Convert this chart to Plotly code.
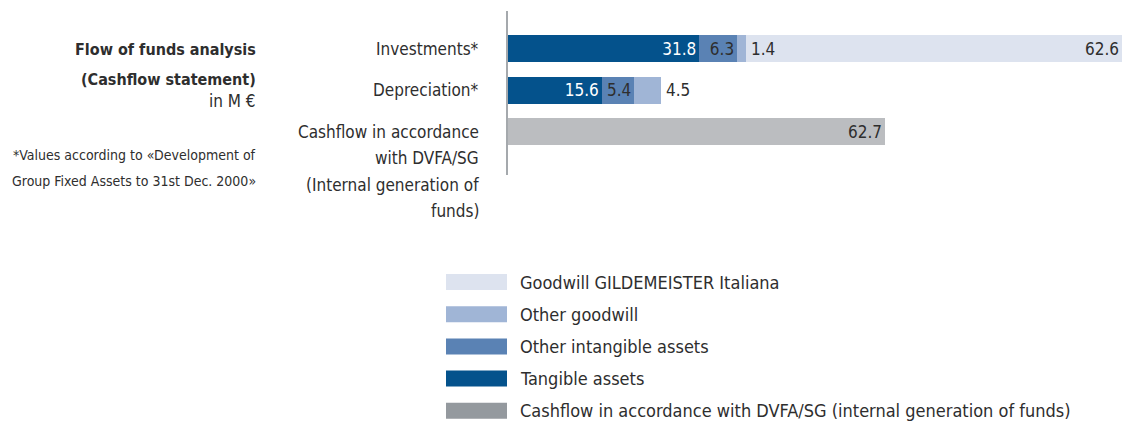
import plotly.graph_objects as go

# ---------------- data ----------------
categories = ["Investments*", "Depreciation*", "Cashflow"]
category_lines = [
    ["Investments*"],
    ["Depreciation*"],
    ["Cashflow in accordance", "with DVFA/SG", "(Internal generation of", "funds)"],
]
tangible = [31.8, 15.6, None]
other_intangible = [6.3, 5.4, None]
other_goodwill = [1.4, 4.5, None]
goodwill_italiana = [62.6, None, None]
cashflow = [None, None, 62.7]

legend_labels = [
    "Goodwill GILDEMEISTER Italiana",
    "Other goodwill",
    "Other intangible assets",
    "Tangible assets",
    "Cashflow in accordance with DVFA/SG (internal generation of funds)",
]
title_lines = ["Flow of funds analysis", "(Cashflow statement)"]
unit_label = "in M €"
footnote_lines = ["*Values according to «Development of", "Group Fixed Assets to 31st Dec. 2000»"]

# ---------------- styles ----------------
FONT = "DejaVu Sans Condensed, DejaVu Sans, sans-serif"
TXT = "#2e2e2e"
C_TANG = "#04528c"
C_INTANG = "#5a82b4"
C_GOOD = "#a0b5d6"
C_ITAL = "#dde3ef"
C_CASH = "#bbbdc0"
C_CASH_LEG = "#94999e"

W, H = 1122, 421
L, R, T, B = 508, 0, 11, 246
PW, PH = W - L - R, H - T - B


def px_x(px):
    return (px - L) / PW


def px_y(py):
    return (H - B - py) / PH


fig = go.Figure()


def fmt(vals):
    return ["" if v is None else f"{v:.1f}" for v in vals]


bar_common = dict(orientation="h", width=0.65, textposition="inside",
                  insidetextanchor="end", constraintext="none",
                  hoverinfo="skip", marker_line_width=0, showlegend=False,
                  cliponaxis=False)

fig.add_trace(go.Bar(y=categories, x=tangible, marker_color=C_TANG, text=fmt(tangible),
                     textfont=dict(family=FONT, size=17, color="white"), **bar_common))
fig.add_trace(go.Bar(y=categories, x=other_intangible, marker_color=C_INTANG,
                     text=fmt(other_intangible),
                     textfont=dict(family=FONT, size=17, color=TXT), **bar_common))
fig.add_trace(go.Bar(y=categories, x=other_goodwill, marker_color=C_GOOD,
                     text=["" for _ in other_goodwill],
                     textfont=dict(family=FONT, size=17, color=TXT), **bar_common))
fig.add_trace(go.Bar(y=categories, x=goodwill_italiana, marker_color=C_ITAL,
                     text=fmt(goodwill_italiana),
                     textfont=dict(family=FONT, size=17, color=TXT), **bar_common))
fig.add_trace(go.Bar(y=categories, x=cashflow, marker_color=C_CASH, text=fmt(cashflow),
                     textfont=dict(family=FONT, size=17, color=TXT), **bar_common))

annotations = []
# labels of "other goodwill" placed just right of its segment
for i, cat in enumerate(categories):
    if other_goodwill[i] is None:
        continue
    end = (tangible[i] or 0) + (other_intangible[i] or 0) + other_goodwill[i]
    annotations.append(dict(x=end, y=cat, xref="x", yref="y", text=f"{other_goodwill[i]:.1f}",
                            xanchor="left", yanchor="middle", xshift=3, showarrow=False,
                            font=dict(family=FONT, size=17, color=TXT)))

# category labels (multi-line, first line aligned with bar)
for i, cat in enumerate(categories):
    for j, line in enumerate(category_lines[i]):
        annotations.append(dict(x=px_x(481), y=cat, xref="paper", yref="y", text=line,
                                xanchor="right", yanchor="middle", yshift=-26.5 * j,
                                showarrow=False, font=dict(family=FONT, size=17, color=TXT)))

# left title block
for py, line in zip([49, 79], title_lines):
    annotations.append(dict(x=px_x(258), y=px_y(py), xref="paper", yref="paper",
                            text=f"<b>{line}</b>", xanchor="right", yanchor="middle",
                            showarrow=False, font=dict(family=FONT, size=16, color=TXT)))
annotations.append(dict(x=px_x(258), y=px_y(101), xref="paper", yref="paper", text=unit_label,
                        xanchor="right", yanchor="middle", showarrow=False,
                        font=dict(family=FONT, size=17, color=TXT)))
for py, line in zip([155, 181], footnote_lines):
    annotations.append(dict(x=px_x(258), y=px_y(py), xref="paper", yref="paper", text=line,
                            xanchor="right", yanchor="middle", showarrow=False,
                            font=dict(family=FONT, size=14, color=TXT)))

# manual legend
shapes = []
leg_colors = [C_ITAL, C_GOOD, C_INTANG, C_TANG, C_CASH_LEG]
for k, (lab, col) in enumerate(zip(legend_labels, leg_colors)):
    cy = 282 + 32.2 * k
    shapes.append(dict(type="rect", xref="paper", yref="paper",
                       x0=px_x(446), x1=px_x(507), y0=px_y(cy + 8), y1=px_y(cy - 8),
                       fillcolor=col, line=dict(width=0)))
    annotations.append(dict(x=px_x(518), y=px_y(cy), xref="paper", yref="paper", text=lab,
                            xanchor="left", yanchor="middle", showarrow=False,
                            font=dict(family=FONT, size=18, color=TXT)))

fig.update_layout(
    width=W, height=H, barmode="stack",
    margin=dict(l=L, r=R, t=T, b=B, pad=0),
    paper_bgcolor="white", plot_bgcolor="white",
    font=dict(family=FONT, color=TXT),
    annotations=annotations, shapes=shapes,
    uniformtext=dict(mode=False),
)
fig.update_xaxes(range=[0, 102.1], showgrid=False, zeroline=False, showticklabels=False,
                 showline=False, fixedrange=True)
fig.update_yaxes(type="category", range=[3.048, -0.904], showgrid=False, zeroline=False,
                 showticklabels=False, showline=True, linecolor="#a5a9ad", linewidth=2,
                 ticks="", fixedrange=True)

fig.write_html("out.html", config={"displayModeBar": False},
               post_script="document.body.style.margin='0';document.body.style.overflow='hidden';")
